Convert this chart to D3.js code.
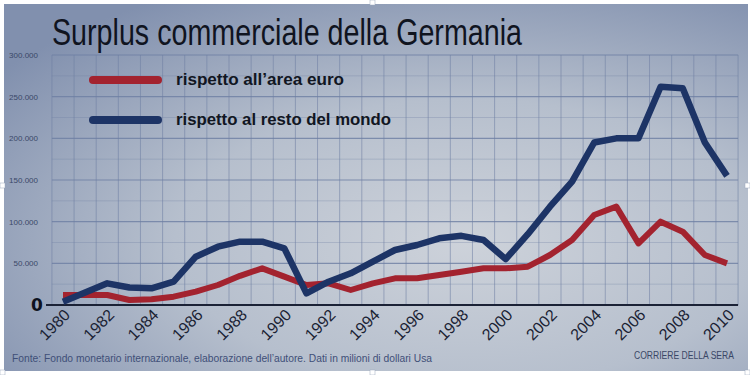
<!DOCTYPE html>
<html>
<head>
<meta charset="utf-8">
<script src="https://cdn.jsdelivr.net/npm/d3@7"></script>
<style>
  html, body { margin: 0; padding: 0; background: #fff; }
  svg { display: block; }
</style>
</head>
<body>
<div id="chart"></div>
<script>
// Surplus commerciale della Germania (milioni di dollari Usa)
const years = d3.range(1980, 2011);
const restoDelMondo = [4000, 15000, 26000, 21000, 20000, 28000, 58000, 70000, 76000, 76000,
  68000, 14000, 28000, 38000, 52000, 66000, 72000, 80000, 83000, 78000,
  55000, 85000, 118000, 148000, 195000, 200000, 200000, 262000, 260000, 195000, 155000];
const areaEuro = [12000, 12000, 12000, 6000, 7000, 10000, 16000, 24000, 35000, 44000,
  34000, 24000, 26000, 18000, 26000, 32000, 32000, 36000, 40000, 44000,
  44000, 46000, 60000, 78000, 108000, 118000, 74000, 100000, 88000, 60000, 50000];
const yTicks = [50000, 100000, 150000, 200000, 250000, 300000];
const xTickYears = d3.range(1980, 2011, 2);
const seriesNames = ["rispetto all\u2019area euro", "rispetto al resto del mondo"];

const config = {
  red: "#a3232f",
  blue: "#1d3466",
  grid: "#6d7ea3",
  text: "#1a2233",
  axisText: "#3a4868"
};

const width = 750, height = 375;
const svg = d3.select("#chart").append("svg")
  .attr("width", width)
  .attr("height", height);

// photo-like paper background
const defs = svg.append("defs");
const grad = defs.append("radialGradient")
  .attr("id", "paper")
  .attr("cx", "62%").attr("cy", "65%").attr("r", "78%");
grad.append("stop").attr("offset", "0%").attr("stop-color", "#cdd2da");
grad.append("stop").attr("offset", "50%").attr("stop-color", "#b6bfcd");
grad.append("stop").attr("offset", "100%").attr("stop-color", "#8190ae");

svg.append("rect")
  .attr("x", 0).attr("y", 0)
  .attr("width", width).attr("height", height)
  .attr("fill", "#fff");
svg.append("rect")
  .attr("x", 4).attr("y", 4)
  .attr("width", width - 6).attr("height", height - 8)
  .attr("fill", "url(#paper)");

const x = d3.scaleLinear().domain([1980, 2010]).range([63, 727]);
const y = d3.scaleLinear().domain([0, 300000]).range([305, 55]);

// grid
const grid = svg.append("g").attr("class", "grid");
grid.selectAll("line.v")
  .data(d3.range(1979.5, 2011, 1))
  .enter().append("line")
  .attr("class", "v")
  .attr("x1", d => x(d)).attr("x2", d => x(d))
  .attr("y1", y(300000)).attr("y2", y(0))
  .attr("stroke", config.grid)
  .attr("stroke-opacity", 0.55)
  .attr("stroke-width", 1);

grid.selectAll("line.minor")
  .data(d3.range(25000, 300000, 50000))
  .enter().append("line")
  .attr("class", "minor")
  .attr("x1", x(1979.5)).attr("x2", x(2010.5))
  .attr("y1", d => y(d)).attr("y2", d => y(d))
  .attr("stroke", config.grid)
  .attr("stroke-opacity", 0.3)
  .attr("stroke-width", 1);

grid.selectAll("line.h")
  .data(yTicks)
  .enter().append("line")
  .attr("class", "h")
  .attr("x1", x(1979.5)).attr("x2", x(2010.5))
  .attr("y1", d => y(d)).attr("y2", d => y(d))
  .attr("stroke", config.grid)
  .attr("stroke-opacity", 0.8)
  .attr("stroke-width", 1.2);

// y labels, italian format
const it = d3.formatLocale({decimal: ",", thousands: ".", grouping: [3], currency: ["", " \u20ac"]});
const fmt = it.format(",");
svg.append("g").selectAll("text")
  .data(yTicks)
  .enter().append("text")
  .attr("x", 38)
  .attr("y", d => y(d) + 3)
  .attr("text-anchor", "end")
  .attr("fill", config.axisText)
  .style("font-family", "'Liberation Sans Narrow', 'Liberation Sans', Arial, sans-serif")
  .style("font-size", "8px")
  .text(d => fmt(d));

// zero marker
svg.append("text")
  .attr("x", 37).attr("y", y(0) + 6)
  .attr("text-anchor", "middle")
  .attr("fill", "#0d1220")
  .style("font-family", "'DejaVu Sans', sans-serif")
  .style("font-weight", "bold")
  .style("font-size", "17px")
  .text("0");

// x axis line
svg.append("line")
  .attr("x1", 46).attr("x2", x(2010.5))
  .attr("y1", y(0)).attr("y2", y(0))
  .attr("stroke", "#1b2236")
  .attr("stroke-width", 2);

// year labels
svg.append("g").selectAll("text")
  .data(xTickYears)
  .enter().append("text")
  .attr("transform", d => `translate(${x(d) + 8},${y(0) + 11}) rotate(-45)`)
  .attr("text-anchor", "end")
  .attr("fill", config.text)
  .style("font-family", "'Liberation Sans', Arial, sans-serif")
  .style("font-size", "16px")
  .text(d => d);

// lines
const line = d3.line()
  .x((d, i) => x(years[i]))
  .y(d => y(d));

svg.append("path")
  .datum(areaEuro)
  .attr("d", line)
  .attr("fill", "none")
  .attr("stroke", config.red)
  .attr("stroke-width", 6)
  .attr("stroke-linejoin", "round");

svg.append("path")
  .datum(restoDelMondo)
  .attr("d", line)
  .attr("fill", "none")
  .attr("stroke", config.blue)
  .attr("stroke-width", 6.5)
  .attr("stroke-linejoin", "round");

// legend
const legend = svg.append("g").attr("class", "legend");
const legendItems = legend.selectAll("g")
  .data([{name: seriesNames[0], color: config.red, w: 168},
         {name: seriesNames[1], color: config.blue, w: 215}])
  .enter().append("g")
  .attr("transform", (d, i) => `translate(0, ${80 + i * 40})`);

legendItems.append("line")
  .attr("x1", 93).attr("x2", 158)
  .attr("y1", 0).attr("y2", 0)
  .attr("stroke", d => d.color)
  .attr("stroke-width", 8)
  .attr("stroke-linecap", "round");

legendItems.append("text")
  .attr("x", 176).attr("y", 5)
  .attr("fill", "#111622")
  .attr("textLength", d => d.w)
  .attr("lengthAdjust", "spacingAndGlyphs")
  .style("font-family", "'Liberation Sans Narrow', 'Liberation Sans', Arial, sans-serif")
  .style("font-weight", "bold")
  .style("font-size", "16px")
  .text(d => d.name);

// title
svg.append("text")
  .attr("x", 52).attr("y", 45)
  .attr("fill", "#10141f")
  .attr("textLength", 470)
  .attr("lengthAdjust", "spacingAndGlyphs")
  .style("font-family", "'Liberation Sans Narrow', 'Liberation Sans', Arial, sans-serif")
  .style("font-size", "37px")
  .text("Surplus commerciale della Germania");

// source + credit
svg.append("text")
  .attr("x", 12).attr("y", 362)
  .attr("fill", "#3f4f78")
  .attr("textLength", 420)
  .attr("lengthAdjust", "spacingAndGlyphs")
  .style("font-family", "'Liberation Sans Narrow', 'Liberation Sans', Arial, sans-serif")
  .style("font-size", "10px")
  .text("Fonte: Fondo monetario internazionale, elaborazione dell\u2019autore. Dati in milioni di dollari Usa");

svg.append("text")
  .attr("x", 634).attr("y", 359)
  .attr("fill", "#3a4766")
  .attr("textLength", 100)
  .attr("lengthAdjust", "spacingAndGlyphs")
  .style("font-family", "'Liberation Sans Narrow', 'Liberation Sans', Arial, sans-serif")
  .style("font-size", "10px")
  .text("CORRIERE DELLA SERA");

// selection handles of the pasted picture
const handles = [[0, 183], [745, 183], [0, 370], [370, 370], [745, 370], [370, 0]];
svg.append("g").selectAll("rect")
  .data(handles)
  .enter().append("rect")
  .attr("x", d => d[0]).attr("y", d => d[1])
  .attr("width", 5).attr("height", 5)
  .attr("fill", "#fff")
  .attr("stroke", "#9aa7bd")
  .attr("stroke-width", 0.5);
</script>
</body>
</html>
